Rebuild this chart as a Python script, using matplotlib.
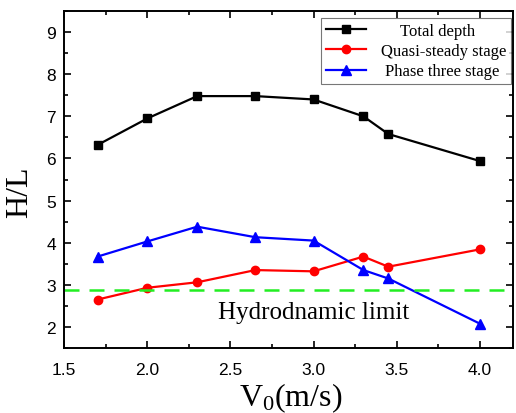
import matplotlib.pyplot as plt
from matplotlib.ticker import MultipleLocator

plt.rcParams['mathtext.fontset'] = 'custom'
plt.rcParams['mathtext.rm'] = 'Liberation Serif'
plt.rcParams['mathtext.it'] = 'Liberation Serif'

# ── Data ────────────────────────────────────────────────────────────────────
v0 = [1.7, 2.0, 2.3, 2.65, 3.0, 3.3, 3.45, 4.0]
total_depth = [6.32, 6.95, 7.48, 7.48, 7.40, 7.00, 6.58, 5.94]
quasi_steady = [2.65, 2.93, 3.06, 3.35, 3.32, 3.67, 3.43, 3.84]
phase_three = [3.67, 4.03, 4.38, 4.13, 4.05, 3.35, 3.15, 2.08]
hydro_limit = 2.87

serif = ['Liberation Serif', 'DejaVu Serif']
sans = ['Liberation Sans', 'DejaVu Sans']

fig = plt.figure(figsize=(5.16, 4.14), dpi=100)
ax = fig.add_axes([0.1246, 0.157, 0.8694, 0.814])

ax.plot(v0, total_depth, color='black', marker='s', markersize=6, lw=1.6, label='Total depth')
ax.plot(v0, quasi_steady, color='red', marker='o', markersize=6, lw=1.6, label='Quasi-steady stage')
ax.plot(v0, phase_three, color='blue', marker='^', markersize=7, lw=1.6, label='Phase three stage')
ax.axhline(hydro_limit, color='#22ee22', lw=1.8, dashes=(6, 4))

ax.text(3.0, 2.36, 'Hydrodnamic limit', family=serif, fontsize=18,
        ha='center', va='center')

ax.set_xlim(1.5, 4.2)
ax.set_ylim(1.5, 9.5)
ax.xaxis.set_major_locator(MultipleLocator(0.5))
ax.xaxis.set_minor_locator(MultipleLocator(0.25))
ax.set_yticks([2, 3, 4, 5, 6, 7, 8, 9])
ax.yaxis.set_minor_locator(MultipleLocator(0.5))
ax.tick_params(which='both', direction='in', top=True, right=True, width=1.2)
ax.tick_params(which='major', length=5)
ax.tick_params(which='minor', length=3)
ax.tick_params(axis='x', pad=10)
ax.tick_params(axis='y', pad=6)
for lab in ax.get_xticklabels() + ax.get_yticklabels():
    lab.set_family(sans)
    lab.set_fontsize(12.5)
for s in ax.spines.values():
    s.set_linewidth(1.4)

ax.set_xlabel('V$_\\mathrm{0}$(m/s)', family=serif, fontsize=23)
ax.set_ylabel('H/L', family=serif, fontsize=23)
ax.xaxis.set_label_coords(0.505, -0.097)
ax.yaxis.set_label_coords(-0.068, 0.466)

leg = ax.legend(loc='upper right', prop={'family': serif, 'size': 12},
                bbox_to_anchor=(511 / 516, 1 - 19 / 414),
                bbox_transform=fig.transFigure,
                frameon=True, fancybox=False, edgecolor='#555555',
                borderaxespad=0, handlelength=2.4, handletextpad=0.9,
                borderpad=0.3, labelspacing=0.25)
leg.get_frame().set_linewidth(0.8)

# centre the legend labels in their column, as in the reference
fig.canvas.draw()
rend = fig.canvas.get_renderer()
widths = [t.get_window_extent(rend).width for t in leg.get_texts()]
for t, w in zip(leg.get_texts(), widths):
    t.set_position(((max(widths) - w) / 2.6, 0))

fig.savefig('out.png', dpi=100)
